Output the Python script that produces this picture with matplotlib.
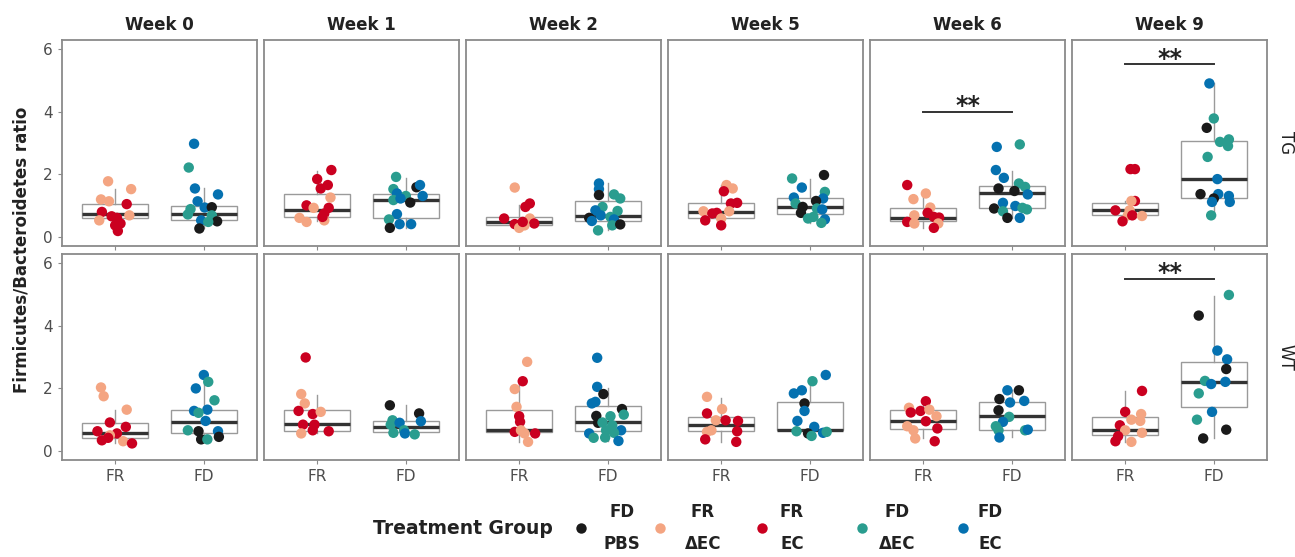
import matplotlib
matplotlib.use("Agg")
import matplotlib.pyplot as plt
from matplotlib.lines import Line2D

# ---------------- data ----------------
weeks = ["Week 0", "Week 1", "Week 2", "Week 5", "Week 6", "Week 9"]
genotypes = ["TG", "WT"]
diets = ["FR", "FD"]

# treatment colours
treat_labels = ["FD\nPBS", "FR\n\u0394EC", "FR\nEC", "FD\n\u0394EC", "FD\nEC"]
treat_colors = ["#1a1a1a", "#F4A582", "#CA0020", "#2A9D8F", "#0571B0"]
# code -> treatment index: P = FD PBS, r = FR dEC, R = FR EC, t = FD dEC, b = FD EC
code_idx = {"P": 0, "r": 1, "R": 2, "t": 3, "b": 4}

# points per panel: (treatment code, ratio, jitter offset)
TG_FR = [
    [("r",1.78,-0.08),("r",1.53,0.18),("r",1.20,-0.16),("r",1.14,-0.07),("R",1.05,0.13),("R",0.80,-0.15),
     ("R",0.66,-0.04),("r",0.69,0.16),("R",0.61,0.02),("r",0.53,-0.18),("R",0.43,0.06),("R",0.37,0.0),("R",0.19,0.03)],
    [("R",2.14,0.16),("R",1.85,0.0),("R",1.66,0.12),("R",1.55,0.04),("r",1.26,0.15),("R",1.01,-0.12),("r",0.93,-0.04),
     ("R",0.93,0.13),("R",0.75,0.08),("r",0.61,-0.20),("r",0.48,-0.12),("r",0.53,0.08),("R",0.64,0.06)],
    [("r",1.58,-0.05),("R",1.07,0.12),("R",0.96,0.07),("R",0.59,-0.17),("r",0.59,0.12),("R",0.41,-0.05),
     ("R",0.43,0.17),("r",0.29,0.0),("r",0.37,0.06),("R",0.48,0.04)],
    [("r",1.66,0.06),("r",1.55,0.13),("R",1.46,0.03),("R",1.07,0.11),("R",1.09,0.18),("r",0.82,-0.20),("R",0.75,-0.10),
     ("R",0.77,-0.05),("r",0.82,0.09),("r",0.59,0.0),("R",0.53,-0.18),("R",0.37,0.0)],
    [("R",1.66,-0.18),("r",1.39,0.03),("r",1.21,-0.11),("r",0.94,0.08),("r",0.69,-0.10),("R",0.77,0.05),("R",0.64,0.12),
     ("R",0.62,0.18),("R",0.48,-0.18),("r",0.43,-0.10),("r",0.43,0.17),("R",0.29,0.12)],
    [("R",2.17,0.06),("R",2.17,0.11),("R",1.15,0.11),("r",1.15,0.07),("R",0.85,-0.11),("r",0.85,0.05),("r",0.69,0.03),
     ("R",0.69,0.08),("r",0.67,0.19),("R",0.50,-0.03)],
]
TG_FD = [
    [("b",2.98,-0.11),("t",2.22,-0.17),("b",1.55,-0.10),("b",1.36,0.16),("b",1.14,-0.07),("b",0.94,0.01),("P",0.95,0.09),
     ("t",0.89,-0.15),("t",0.72,-0.18),("t",0.69,0.09),("b",0.53,-0.03),("P",0.50,0.15),("t",0.48,0.05),("P",0.27,-0.05)],
    [("t",1.92,-0.11),("P",1.59,0.12),("b",1.66,0.16),("t",1.53,-0.14),("b",1.39,-0.10),("t",1.31,0.0),("b",1.31,0.19),
     ("t",1.18,-0.14),("b",1.23,-0.06),("P",1.10,0.05),("b",0.73,-0.10),("t",0.56,-0.19),("b",0.41,-0.07),
     ("b",0.41,0.06),("P",0.29,-0.18)],
    [("b",1.71,-0.10),("b",1.53,-0.10),("P",1.34,-0.10),("t",1.36,0.07),("t",1.23,0.14),("t",0.96,-0.06),("b",0.85,-0.14),
     ("t",0.83,0.11),("b",0.69,-0.08),("P",0.61,-0.21),("t",0.64,0.03),("b",0.51,-0.18),("b",0.56,0.07),
     ("t",0.37,0.05),("P",0.40,0.14),("t",0.21,-0.11)],
    [("P",1.98,0.16),("t",1.87,-0.20),("b",1.58,-0.09),("t",1.44,0.17),("b",1.26,-0.18),("b",1.23,0.15),("P",1.15,0.07),
     ("t",1.07,-0.16),("P",0.96,-0.08),("P",0.77,-0.10),("t",0.91,0.08),("b",0.88,0.14),("t",0.59,-0.02),
     ("t",0.64,0.04),("b",0.56,0.17),("t",0.45,0.13)],
    [("b",2.88,-0.17),("t",2.96,0.09),("b",2.14,-0.18),("b",1.89,-0.09),("t",1.71,0.08),("t",1.60,0.15),("P",1.55,-0.15),
     ("P",1.47,0.03),("b",1.36,0.18),("b",1.09,-0.10),("b",0.99,0.04),("P",0.91,-0.20),("t",0.93,0.12),
     ("t",0.88,0.17),("t",0.82,-0.10),("P",0.61,-0.05),("b",0.61,0.09)],
    [("b",4.91,-0.05),("t",3.79,0.0),("P",3.49,-0.08),("t",3.04,0.07),("t",3.12,0.17),("t",2.91,0.16),("t",2.56,-0.07),
     ("b",1.85,0.04),("P",1.37,-0.15),("b",1.37,0.05),("P",1.23,0.0),("b",1.31,0.17),("b",1.12,0.18),
     ("b",1.12,-0.02),("t",0.69,-0.03)],
]
WT_FR = [
    [("r",2.03,-0.16),("r",1.75,-0.13),("r",1.32,0.13),("R",0.91,-0.06),("R",0.77,0.12),("R",0.63,-0.20),("R",0.56,0.02),
     ("r",0.50,-0.06),("R",0.34,-0.15),("r",0.31,0.09),("R",0.24,0.19),("R",0.42,-0.08)],
    [("R",2.99,-0.13),("r",1.82,-0.18),("r",1.52,-0.14),("R",1.28,-0.21),("R",1.18,-0.05),("r",1.25,0.04),("R",0.84,-0.16),
     ("R",0.84,-0.03),("R",0.66,-0.05),("r",0.56,-0.18),("R",0.63,0.13)],
    [("r",2.85,0.09),("R",2.23,0.04),("r",1.98,-0.05),("r",1.41,-0.03),("R",1.11,0.0),("R",0.93,0.01),("R",0.61,-0.05),
     ("r",0.66,0.02),("r",0.56,0.06),("R",0.56,0.18),("r",0.29,0.10)],
    [("r",1.73,-0.16),("r",1.34,0.01),("R",1.20,-0.16),("r",0.98,-0.06),("R",0.98,0.05),("R",0.96,0.19),("r",0.66,-0.11),
     ("r",0.61,-0.16),("R",0.63,0.18),("R",0.37,-0.18),("R",0.29,0.17)],
    [("R",1.59,0.03),("r",1.38,-0.16),("R",1.23,-0.14),("R",1.28,-0.03),("r",1.32,0.07),("r",1.11,0.15),("R",0.95,0.03),
     ("r",0.79,-0.18),("r",0.66,-0.11),("R",0.72,0.16),("r",0.40,-0.09),("R",0.31,0.13)],
    [("R",1.92,0.19),("R",1.25,0.0),("r",1.18,0.18),("r",1.00,0.07),("r",0.96,0.17),("R",0.82,-0.06),("r",0.66,0.0),
     ("r",0.58,0.19),("R",0.47,-0.08),("R",0.31,-0.11),("r",0.29,0.07)],
]
WT_FD = [
    [("b",2.43,0.0),("t",2.21,0.05),("b",2.00,-0.09),("t",1.62,0.12),("b",1.28,-0.11),("b",1.32,0.04),("t",1.22,-0.06),
     ("b",0.96,0.02),("t",0.66,-0.18),("P",0.63,-0.06),("b",0.63,0.16),("P",0.37,-0.03),("t",0.37,0.04),("P",0.45,0.17)],
    [("P",1.46,-0.18),("P",1.20,0.15),("t",0.98,-0.15),("b",0.95,0.17),("t",0.84,-0.17),("b",0.90,-0.07),("t",0.66,-0.02),
     ("t",0.58,-0.14),("b",0.56,-0.01),("t",0.53,0.10)],
    [("b",2.98,-0.12),("b",2.05,-0.12),("P",1.82,-0.05),("b",1.57,-0.14),("b",1.52,-0.18),("P",1.34,0.16),("t",1.16,0.18),
     ("P",1.12,-0.13),("t",1.11,0.03),("P",0.90,-0.11),("t",0.91,-0.06),("t",0.82,0.05),("b",0.66,0.15),
     ("t",0.66,-0.02),("b",0.56,-0.21),("t",0.42,-0.16),("t",0.58,0.07),("t",0.43,-0.03),("b",0.32,0.12)],
    [("b",2.43,0.18),("t",2.23,0.03),("b",1.94,-0.09),("b",1.84,-0.18),("P",1.52,-0.06),("b",1.28,-0.06),("b",0.96,-0.14),
     ("b",0.77,0.05),("t",0.63,-0.15),("P",0.56,-0.02),("t",0.48,0.02),("b",0.58,0.15),("t",0.61,0.19)],
    [("b",1.94,-0.05),("P",1.94,0.08),("P",1.66,-0.14),("b",1.55,-0.02),("b",1.60,0.14),("P",1.30,-0.15),("t",1.09,-0.03),
     ("b",0.93,-0.10),("t",0.79,-0.18),("t",0.66,-0.15),("t",0.66,0.15),("b",0.68,0.18),("b",0.43,-0.14)],
    [("t",4.99,0.17),("P",4.33,-0.17),("b",3.21,0.04),("b",2.93,0.15),("P",2.62,0.14),("t",2.24,-0.10),("b",2.14,-0.03),
     ("b",2.21,0.13),("t",1.84,-0.17),("b",1.25,-0.02),("t",1.00,-0.19),("P",0.68,0.14),("P",0.40,-0.12)],
]

# box statistics: (lower whisker, Q1, median, Q3, upper whisker)
TG_FR_box = [(0.19,0.61,0.73,1.05,1.53),(0.50,0.63,0.85,1.36,2.10),(0.29,0.37,0.48,0.64,1.01),
             (0.37,0.62,0.80,1.07,1.66),(0.29,0.50,0.61,0.91,1.36),(0.50,0.69,0.85,1.10,1.15)]
TG_FD_box = [(0.27,0.53,0.73,0.99,1.55),(0.29,0.62,1.18,1.37,1.89),(0.21,0.52,0.66,1.14,1.71),
             (0.45,0.73,0.96,1.23,1.85),(0.61,0.94,1.42,1.62,2.10),(0.69,1.26,1.85,3.07,4.91)]
WT_FR_box = [(0.24,0.42,0.58,0.90,1.32),(0.56,0.64,0.85,1.30,1.78),(0.29,0.61,0.66,1.32,2.23),
             (0.29,0.63,0.82,1.07,1.70),(0.40,0.69,0.95,1.30,1.59),(0.29,0.52,0.66,1.07,1.92)]
WT_FD_box = [(0.37,0.58,0.91,1.30,2.16),(0.53,0.61,0.77,0.96,1.46),(0.32,0.64,0.93,1.44,2.00),
             (0.48,0.66,0.66,1.57,2.37),(0.45,0.68,1.11,1.57,1.94),(0.42,1.39,2.21,2.85,4.96)]

# significance brackets: (genotype, week, bar height, label)
sig_genotype = ["TG", "TG", "WT"]
sig_week = ["Week 6", "Week 9", "Week 9"]
sig_height = [4.0, 5.52, 5.50]
sig_label = ["**", "**", "**"]

points = {"TG": (TG_FR, TG_FD), "WT": (WT_FR, WT_FD)}
boxes = {"TG": (TG_FR_box, TG_FD_box), "WT": (WT_FR_box, WT_FD_box)}

# ---------------- figure ----------------
W, H = 1295, 557
fig = plt.figure(figsize=(W / 100, H / 100), dpi=100)

tick_grey = "#4d4d4d"
frame_grey = "#8a8a8a"
box_grey = "#9a9a9a"

row_top_px = [40, 254]
row_h_px = 206
col_left_px = [62 + i * 202 for i in range(6)]
col_w_px = 195

for r, g in enumerate(genotypes):
    for c, wk in enumerate(weeks):
        left = col_left_px[c] / W
        bottom = 1 - (row_top_px[r] + row_h_px) / H
        ax = fig.add_axes([left, bottom, col_w_px / W, row_h_px / H])

        stats = []
        for d in range(2):
            lo, q1, med, q3, hi = boxes[g][d][c]
            stats.append(dict(whislo=lo, q1=q1, med=med, q3=q3, whishi=hi, fliers=[]))
        ax.bxp(stats, positions=[1, 2], widths=0.75, patch_artist=True, showcaps=False,
               showfliers=False,
               boxprops=dict(facecolor="white", edgecolor=box_grey, linewidth=1.0),
               whiskerprops=dict(color=box_grey, linewidth=1.0),
               medianprops=dict(color="#333333", linewidth=2.4, solid_capstyle="butt"),
               zorder=2)

        for d in range(2):
            pts = points[g][d][c]
            xs = [d + 1 + p[2] for p in pts]
            ys = [p[1] for p in pts]
            cs = [treat_colors[code_idx[p[0]]] for p in pts]
            ax.scatter(xs, ys, s=56, c=cs, linewidths=0, zorder=3)

        for sg, sw, sh, sl in zip(sig_genotype, sig_week, sig_height, sig_label):
            if sg == g and sw == wk:
                ax.plot([1, 2], [sh, sh], color="#333333", linewidth=1.4, zorder=4)
                ax.text(1.5, sh - 0.2, sl, ha="center", va="bottom", fontsize=17,
                        color="#222222", fontweight="bold")

        ax.set_xlim(0.4, 2.6)
        ax.set_ylim(-0.29, 6.3)
        ax.set_xticks([1, 2])
        ax.set_yticks([0, 2, 4, 6])
        ax.tick_params(axis="both", colors=frame_grey, labelcolor=tick_grey, labelsize=11,
                       length=3, width=0.8)
        if r == 1:
            ax.set_xticklabels(diets)
        else:
            ax.set_xticklabels([])
        if c == 0:
            ax.set_yticklabels(["0", "2", "4", "6"])
        else:
            ax.set_yticklabels([])
            ax.tick_params(axis="y", length=0)
        for sp in ax.spines.values():
            sp.set_color(frame_grey)
            sp.set_linewidth(1.3)
        if r == 0:
            ax.set_title(wk, fontsize=12, fontweight="bold", pad=7, color="#222222")
        if c == 5:
            ax.text(1.05, 0.5, g, transform=ax.transAxes, rotation=-90, ha="left", va="center",
                    fontsize=12, color="#222222")

fig.text(22 / W, 1 - 250 / H, "Firmicutes/Bacteroidetes ratio", rotation=90, ha="center", va="center",
         fontsize=12, fontweight="bold", color="#222222")

# legend (manual layout to mimic ggplot's bottom legend)
leg_y = 1 - 528 / H
fig.text(463 / W, leg_y, "Treatment Group", ha="center", va="center", fontsize=13.5,
         fontweight="bold", color="#222222")
dot_x_px = [581, 660, 762, 862, 963]
lab_x_px = [622, 703, 792, 897, 990]
for col, lab, dx, lx in zip(treat_colors, treat_labels, dot_x_px, lab_x_px):
    fig.add_artist(Line2D([dx / W], [leg_y], transform=fig.transFigure, marker="o", linestyle="none",
                          markersize=7.5, markerfacecolor=col, markeredgewidth=0))
    fig.text(lx / W, leg_y, lab, ha="center", va="center", fontsize=12, fontweight="bold",
             color="#222222", linespacing=2.0, multialignment="center")

fig.savefig("out.png", dpi=100)
